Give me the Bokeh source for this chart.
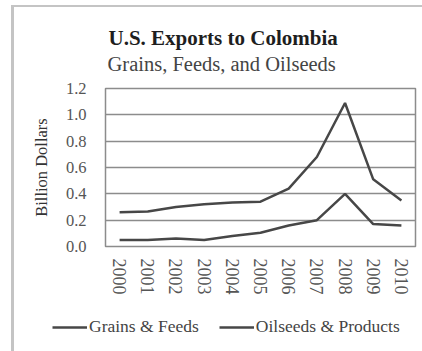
from bokeh.plotting import figure
from bokeh.models import (FactorRange, Range1d, FixedTicker, Legend, LegendItem,
                          Title, NumeralTickFormatter)
from bokeh.embed import file_html
from bokeh.resources import INLINE

# U.S. exports to Colombia, billion dollars
years = ["2000", "2001", "2002", "2003", "2004", "2005",
         "2006", "2007", "2008", "2009", "2010"]
grains_feeds = [0.26, 0.265, 0.30, 0.32, 0.335, 0.34, 0.44, 0.68, 1.09, 0.51, 0.35]
oilseeds_products = [0.05, 0.05, 0.06, 0.05, 0.08, 0.105, 0.16, 0.20, 0.40, 0.17, 0.16]
y_ticks = [0.0, 0.2, 0.4, 0.6, 0.8, 1.0, 1.2]
series_names = ["Grains & Feeds", "Oilseeds & Products"]

title_text = "U.S. Exports to Colombia"
subtitle_text = "Grains, Feeds, and Oilseeds"
y_label = "Billion Dollars"

FONT = "Liberation Serif"
LINE = "#474747"
GRID = "#8c8c8c"
FRAME_BORDER = "#c4c4c4"


def frame_lines(top_line):
    """CSS background drawing the chart's grey frame along the left (and top) edge."""
    grad = "linear-gradient(%s, %s)" % (FRAME_BORDER, FRAME_BORDER)
    if top_line:
        return {"background-color": "white",
                "background-image": grad + ", " + grad,
                "background-position": "11px 5px, 11px 5px",
                "background-size": "3px 400px, 420px 2px",
                "background-repeat": "no-repeat, no-repeat"}
    return {"background-color": "white",
            "background-image": grad,
            "background-position": "11px 0px",
            "background-size": "3px 400px",
            "background-repeat": "no-repeat"}


# ---- main chart -------------------------------------------------------
p = figure(width=422, height=311,
           output_backend="svg", toolbar_location=None,
           x_range=FactorRange(*years, range_padding=0),
           y_range=Range1d(0, 1.2),
           min_border_left=105, min_border_right=7,
           min_border_top=88, min_border_bottom=65)

p.border_fill_alpha = 0
p.background_fill_color = "white"
p.outline_line_color = GRID
p.outline_line_width = 1.5
p.styles = frame_lines(True)

# y axis
p.yaxis.ticker = FixedTicker(ticks=y_ticks)
p.yaxis.formatter = NumeralTickFormatter(format="0.0")
p.yaxis.axis_line_color = None
p.yaxis.major_tick_line_color = None
p.yaxis.minor_tick_line_color = None
p.yaxis.major_label_text_font = FONT
p.yaxis.major_label_text_font_size = "16.5px"
p.yaxis.major_label_text_color = "#555555"
p.yaxis.major_label_standoff = 13
p.yaxis.axis_label = y_label
p.yaxis.axis_label_text_font = FONT
p.yaxis.axis_label_text_font_size = "16.5px"
p.yaxis.axis_label_text_font_style = "normal"
p.yaxis.axis_label_text_color = "#333333"
p.yaxis.axis_label_standoff = 12

# x axis
p.xaxis.axis_line_color = None
p.xaxis.major_tick_line_color = None
p.xaxis.minor_tick_line_color = None
p.xaxis.major_label_orientation = "vertical"
p.xaxis.major_label_text_font = FONT
p.xaxis.major_label_text_font_size = "18px"
p.xaxis.major_label_text_color = "#555555"
p.xaxis.major_label_standoff = 6

p.xgrid.grid_line_color = None
p.ygrid.grid_line_color = GRID
p.ygrid.grid_line_width = 1.5

p.line(years, grains_feeds, line_color=LINE, line_width=2.5)
p.line(years, oilseeds_products, line_color=LINE, line_width=2.5)

# titles: a white spacer nearest the plot, then subtitle, then bold title
p.add_layout(Title(text=".", text_font=FONT, text_font_size="10px",
                   text_color="white", standoff=5), "above")
p.add_layout(Title(text=subtitle_text, text_font=FONT, text_font_size="20.5px",
                   text_font_style="normal", text_color="#444444",
                   align="left", offset=2, standoff=0), "above")
p.add_layout(Title(text=title_text, text_font=FONT, text_font_size="21px",
                   text_font_style="bold", text_color="#1e1e1e",
                   align="left", offset=3, standoff=2), "above")

# ---- legend strip -----------------------------------------------------
lg = figure(width=422, height=40, output_backend="svg", toolbar_location=None,
            x_range=Range1d(0, 1), y_range=Range1d(0, 1),
            x_axis_location=None, y_axis_location=None,
            min_border=0)
lg.border_fill_alpha = 0
lg.background_fill_alpha = 0
lg.outline_line_color = None
lg.grid.grid_line_color = None
lg.styles = frame_lines(False)

# key renderers: single points, so only their legend swatches show
key1 = lg.line([0], [0], line_color=LINE, line_width=2.5)
key2 = lg.line([0], [0], line_color=LINE, line_width=2.5)

legend = Legend(items=[LegendItem(label=series_names[0], renderers=[key1]),
                       LegendItem(label=series_names[1], renderers=[key2])],
                orientation="horizontal", location=(52, 14),
                border_line_color=None, background_fill_alpha=0,
                label_text_font=FONT, label_text_font_size="17.5px",
                label_text_color="#444444",
                glyph_width=35, label_standoff=2, spacing=20,
                margin=0, padding=0)
lg.add_layout(legend, "center")

open("out.html", "w").write(file_html([p, lg], INLINE))
